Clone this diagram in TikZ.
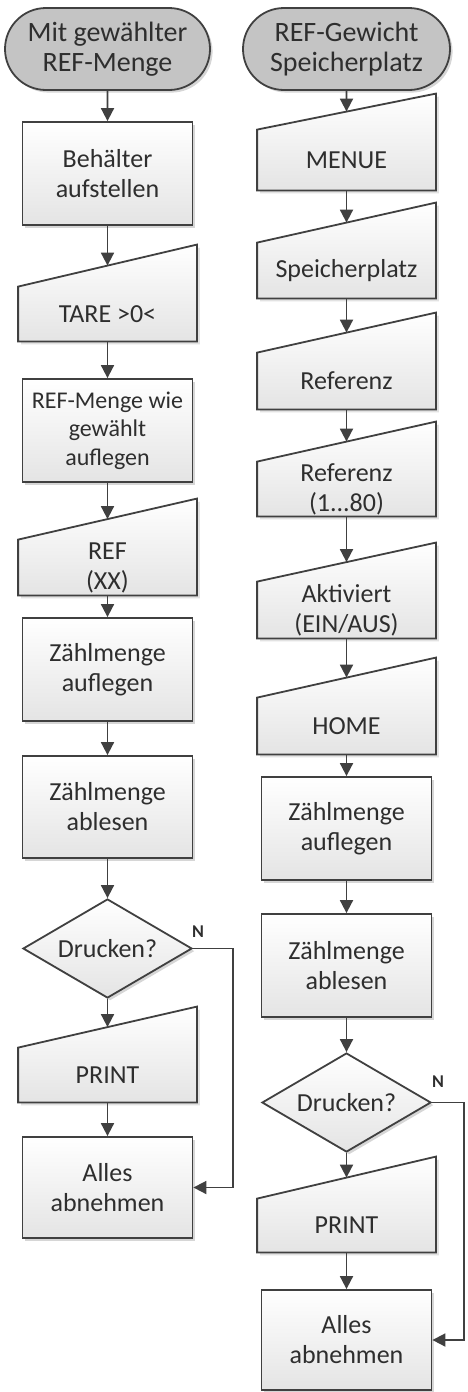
\documentclass[tikz,border=0pt]{standalone}
\usepackage{fontspec}
\setmainfont{Carlito}
\usetikzlibrary{shapes.geometric,shapes.misc,arrows.meta,calc,shadows,backgrounds}

\definecolor{linecol}{HTML}{404040}
\definecolor{txtcol}{HTML}{2E2E2E}
\definecolor{termfill}{HTML}{C4C4C4}
\definecolor{boxbot}{HTML}{E4E4E4}
\definecolor{shadowcol}{HTML}{E2E2E2}

\tikzset{
  base/.style={draw=linecol, line width=0.9pt, text=txtcol, align=center, inner sep=0pt},
  softfill/.style={top color=white, bottom color=boxbot},
  dshadow/.style={drop shadow={shadow xshift=1.3pt, shadow yshift=-1.3pt, opacity=0.16, fill=black}},
  terminal/.style={base, rounded rectangle, fill=termfill, minimum width=102.5pt,
    minimum height=41pt, font=\fontsize{14}{15}\selectfont, dshadow},
  procbox/.style={base, rectangle, softfill, minimum width=85pt, minimum height=#1,
    font=\fontsize{13}{15}\selectfont, dshadow},
  procbox/.default=51.5pt,
  mitext/.style={rectangle, minimum width=89pt, minimum height=#1, align=center,
    inner sep=0pt, text=txtcol, font=\fontsize{13}{15}\selectfont},
  mitext/.default=27.5pt,
  decision/.style={base, diamond, softfill, aspect=1.7, minimum width=84.5pt,
    minimum height=49.5pt, font=\fontsize{13}{15}\selectfont, dshadow},
  arr/.style={draw=linecol, line width=0.9pt, -{Triangle[length=6.5pt,width=6.5pt]}},
  flag/.style={font=\bfseries\fontsize{9}{10}\selectfont, text=txtcol, inner sep=0pt},
  miline/.style={draw=linecol, line width=0.9pt, top color=white, bottom color=boxbot},
}

% Manual-input outline around a node: flat bottom, slanted top rising to the right
\newcommand\manualframe[2]{%
  \fill[shadowcol] ($(#1.south west)+(3,3)$) -- ($(#1.north west)+(3,3)$)
    -- ($(#1.north east)+(3,3-#2)$) -- ($(#1.south east)+(3,3)$) -- cycle;
  \shadedraw[miline] (#1.south west) -- (#1.north west)
    -- ($(#1.north east)+(0,-#2)$) -- (#1.south east) -- cycle;
}

\begin{document}
\begin{tikzpicture}[x=0.5pt, y=-0.5pt]
\useasboundingbox (0,0) rectangle (467,1392);

% ---------------- left flow ----------------
\node[terminal] (L0) at (107.5,49) {Mit gewählter\\REF-Menge};
\node[procbox] (L1) at (107.5,173.5) {Behälter\\aufstellen};
\node[mitext=27pt] (L2) at (107.5,314) {TARE >0<};
\node[procbox, font=\fontsize{12}{14.3}\selectfont] (L3) at (107.5,430.5) {REF-Menge wie\\gewählt\\auflegen};
\node[mitext=27.5pt] (L4) at (107.5,567.5) {REF\\(XX)};
\node[procbox] (L5) at (107.5,669.5) {Zählmenge\\auflegen};
\node[procbox=51pt] (L6) at (107.5,807) {Zählmenge\\ablesen};
\node[decision] (L7) at (107.5,948.5) {Drucken?};
\node[mitext=27pt] (L8) at (107.5,1075) {PRINT};
\node[procbox=50.5pt] (L9) at (107.5,1187.5) {Alles\\abnehmen};
\node[flag] (LN) at (198,932) {N};

% ---------------- right flow ----------------
\node[terminal, minimum width=103.5pt] (R0) at (346.5,49) {REF-Gewicht\\Speicherplatz};
\node[mitext=30pt] (R1) at (346.5,160) {MENUE};
\node[mitext=27.5pt] (R2) at (346.5,270.5) {Speicherplatz};
\node[mitext=28pt] (R3) at (346.5,381) {Referenz};
\node[mitext=27pt] (R4) at (346.5,489) {Referenz\\(1...80)};
\node[mitext=28pt] (R5) at (346.5,610) {Aktiviert\\(EIN/AUS)};
\node[mitext=28pt] (R6) at (346.5,726) {HOME};
\node[procbox] (R7) at (346.5,828.5) {Zählmenge\\auflegen};
\node[procbox] (R8) at (346.5,965.5) {Zählmenge\\ablesen};
\node[decision] (R9) at (346.5,1102.5) {Drucken?};
\node[mitext=26.5pt] (R10) at (346.5,1225.5) {PRINT};
\node[procbox=50pt] (R11) at (346.5,1340) {Alles\\abnehmen};
\node[flag] (RN) at (438,1082) {N};

% manual-input outlines behind their texts
\begin{scope}[on background layer]
  \fill[white] (0,0) rectangle (467,1392);
  \manualframe{L2}{42}
  \manualframe{L4}{41}
  \manualframe{L8}{41}
  \manualframe{R1}{36}
  \manualframe{R2}{40}
  \manualframe{R3}{40}
  \manualframe{R4}{40}
  \manualframe{R5}{39}
  \manualframe{R6}{40}
  \manualframe{R10}{42}
\end{scope}

% entry points on the slanted tops
\coordinate (L2in) at ($(L2.north)+(0,-21)$);
\coordinate (L4in) at ($(L4.north)+(0,-20.5)$);
\coordinate (L8in) at ($(L8.north)+(0,-20.5)$);
\coordinate (R1in) at ($(R1.north)+(0,-18)$);
\coordinate (R2in) at ($(R2.north)+(0,-20)$);
\coordinate (R3in) at ($(R3.north)+(0,-20)$);
\coordinate (R4in) at ($(R4.north)+(0,-20)$);
\coordinate (R5in) at ($(R5.north)+(0,-19.5)$);
\coordinate (R6in) at ($(R6.north)+(0,-20)$);
\coordinate (R10in) at ($(R10.north)+(0,-21)$);

% ---------------- connectors, left ----------------
\draw[arr] (L0) -- (L1);
\draw[arr] (L1) -- (L2in);
\draw[arr] (L2) -- (L3);
\draw[arr] (L3) -- (L4in);
\draw[arr] (L4) -- (L5);
\draw[arr] (L5) -- (L6);
\draw[arr] (L6) -- (L7);
\draw[arr] (L7) -- (L8in);
\draw[arr] (L8) -- (L9);
\coordinate (Lbend) at (233,948.5);
\draw[arr] (L7.east) -- (Lbend) |- (L9.east);

% ---------------- connectors, right ----------------
\draw[arr] (R0) -- (R1in);
\draw[arr] (R1) -- (R2in);
\draw[arr] (R2) -- (R3in);
\draw[arr] (R3) -- (R4in);
\draw[arr] (R4) -- (R5in);
\draw[arr] (R5) -- (R6in);
\draw[arr] (R6) -- (R7);
\draw[arr] (R7) -- (R8);
\draw[arr] (R8) -- (R9);
\draw[arr] (R9) -- (R10in);
\draw[arr] (R10) -- (R11);
\coordinate (Rbend) at (464,1102.5);
\draw[arr] (R9.east) -- (Rbend) |- (R11.east);

\end{tikzpicture}
\end{document}
